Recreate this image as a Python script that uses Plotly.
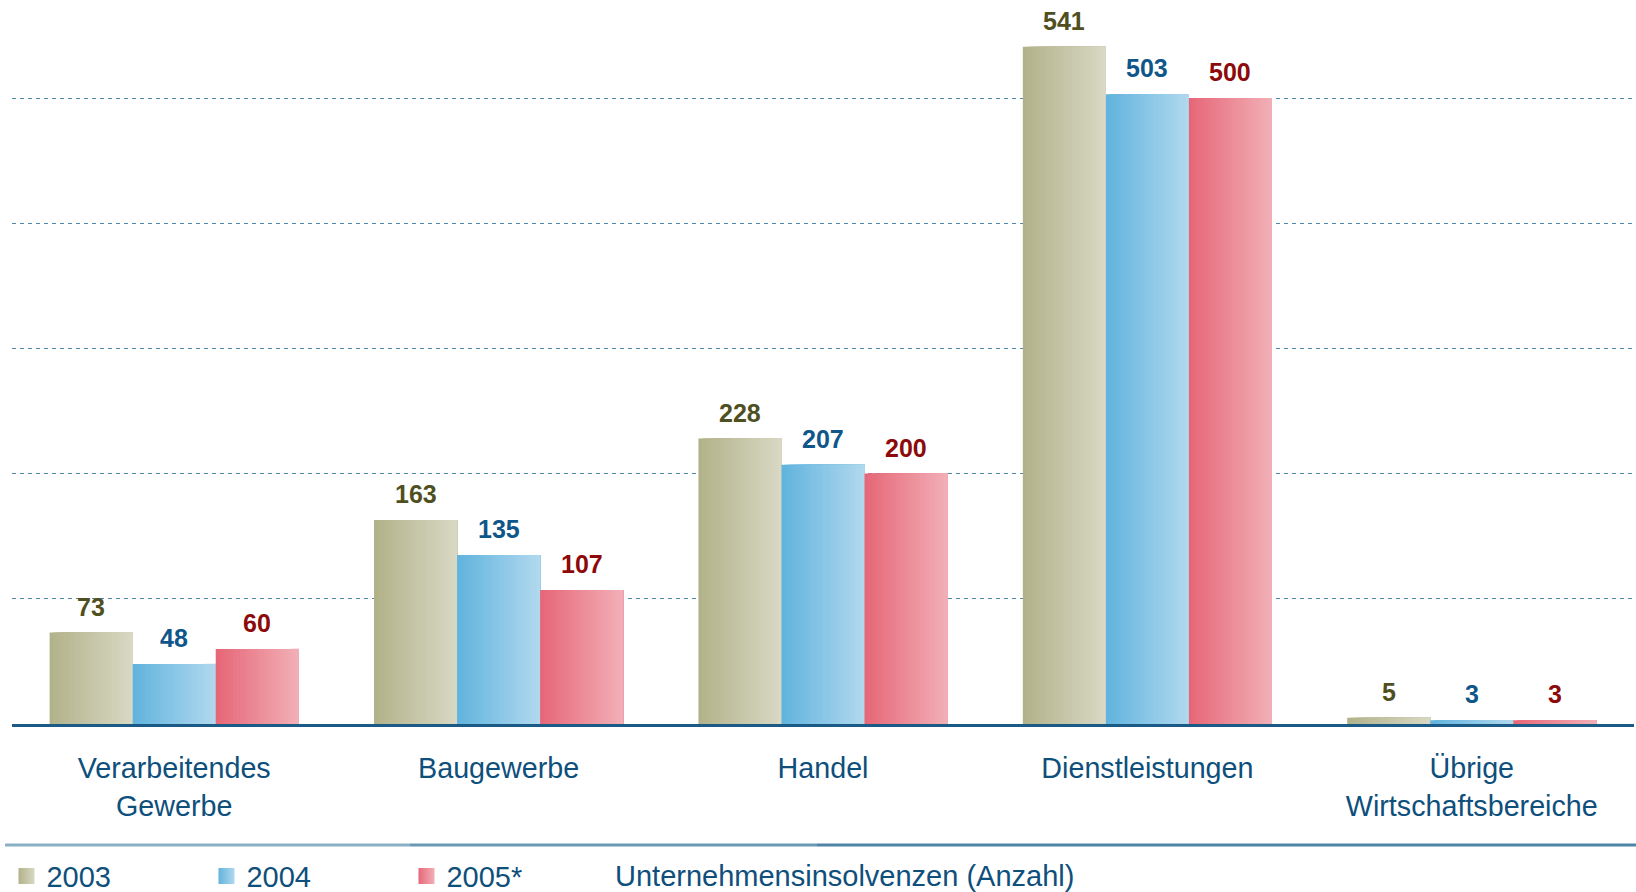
import plotly.graph_objects as go

# ---------------- data ----------------
categories = ["Verarbeitendes<br>Gewerbe", "Baugewerbe", "Handel",
              "Dienstleistungen", "Übrige<br>Wirtschaftsbereiche"]
series_names = ["2003", "2004", "2005*"]
values_2003 = [73, 163, 228, 541, 5]
values_2004 = [48, 135, 207, 503, 3]
values_2005 = [60, 107, 200, 500, 3]
legend_title = "Unternehmensinsolvenzen (Anzahl)"
grid_values = [100, 200, 300, 400, 500]

# ---------------- styles ----------------
grad_left = ["#b2b28a", "#62b4de", "#e66878"]
grad_right = ["#d8d8c4", "#b0d8ee", "#f2aeb6"]
label_colors = ["#4f4f1f", "#0f568a", "#8c0a0a"]
text_blue = "#0e4f7c"
FONT = "Liberation Sans, Arial, sans-serif"

GROUP_W = 0.768
BAR_W = GROUP_W / 3
N_STRIPS = 24


def hex2rgb(h):
    h = h.lstrip("#")
    return tuple(int(h[i:i + 2], 16) for i in (0, 2, 4))


def mix(c1, c2, t):
    a, b = hex2rgb(c1), hex2rgb(c2)
    return "rgb(%d,%d,%d)" % tuple(round(a[k] + (b[k] - a[k]) * t) for k in range(3))


fig = go.Figure()
all_values = [values_2003, values_2004, values_2005]

for k, vals in enumerate(all_values):
    start = -GROUP_W / 2 + k * BAR_W
    s = BAR_W / N_STRIPS
    for i in range(N_STRIPS):
        fig.add_trace(go.Bar(
            x=categories, y=vals,
            offset=start + i * s, width=BAR_W - i * s,
            marker=dict(color=mix(grad_left[k], grad_right[k], i / (N_STRIPS - 1)),
                        line=dict(width=0)),
            showlegend=False, hoverinfo="skip",
        ))
    # legend entry
    fig.add_trace(go.Scatter(
        x=[None], y=[None], mode="markers", name=series_names[k],
        marker=dict(symbol="square", size=16, color=grad_left[k],
                    gradient=dict(type="horizontal", color=grad_right[k]),
                    line=dict(width=0)),
    ))
    # value labels
    for j, v in enumerate(vals):
        fig.add_annotation(
            x=j + start + BAR_W / 2, y=v, xref="x", yref="y",
            text="<b>%d</b>" % v, showarrow=False, yanchor="bottom", yshift=10,
            font=dict(family=FONT, size=25, color=label_colors[k]),
        )

fig.add_annotation(
    x=0.3707, y=-0.21, xref="paper", yref="paper", xanchor="left", yanchor="middle",
    text=legend_title, showarrow=False,
    font=dict(family=FONT, size=29, color=text_blue),
)

# separator line below the category labels
for x0, x1, col in [(-0.0043, 0.2454, "#8ab0c5"), (0.2454, 0.4963, "#6b98b4"),
                    (0.4963, 1.002, "#4f84a5")]:
    fig.add_shape(type="line", xref="paper", yref="paper", x0=x0, x1=x1,
                  y0=-0.167, y1=-0.167, line=dict(color=col, width=3))

fig.update_layout(
    width=1636, height=892,
    margin=dict(l=12, r=2, t=0, b=168, autoexpand=False),
    plot_bgcolor="white", paper_bgcolor="white",
    barmode="overlay",
    font=dict(family=FONT, color=text_blue),
    showlegend=True,
    legend=dict(orientation="h", x=-0.0034, y=-0.21, xanchor="left", yanchor="middle",
                font=dict(family=FONT, size=29, color=text_blue),
                entrywidth=155, entrywidthmode="pixels", bgcolor="rgba(0,0,0,0)"),
    xaxis=dict(type="category", showline=True, linecolor="#1b5a87", linewidth=3,
               ticks="", tickfont=dict(family=FONT, size=28.7, color=text_blue),
               ticklabelstandoff=17, showgrid=False, range=[-0.5, 4.5],
               automargin=False),
    yaxis=dict(range=[0, 578.3], showticklabels=False, ticks="", tickvals=grid_values,
               showgrid=True, gridcolor="#4d87aa", gridwidth=1.3, griddash="4px,4px",
               zeroline=False, showline=False, automargin=False),
)

fig.write_html("out.html", config={"displayModeBar": False},
               post_script="document.body.style.margin='0';document.body.style.overflow='hidden';")
